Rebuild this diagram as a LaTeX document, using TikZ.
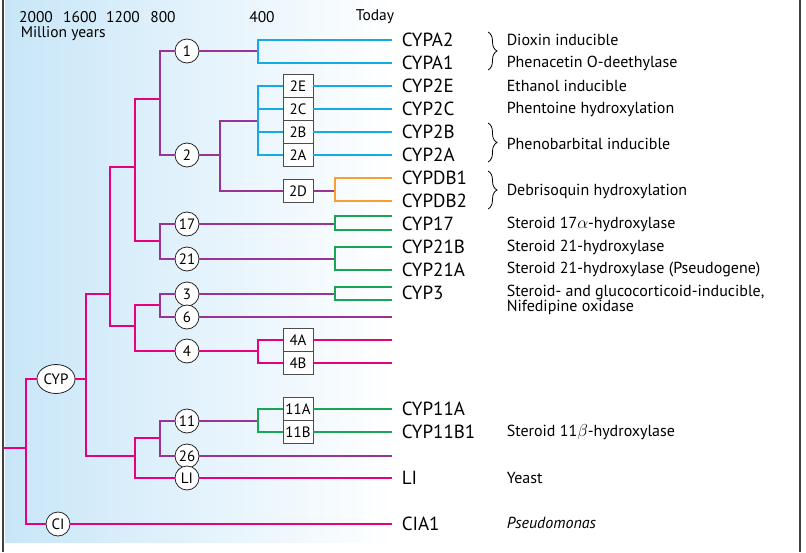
\documentclass[tikz,border=0pt]{standalone}
\usepackage{fontspec}
\setmainfont{PT Sans}
\usetikzlibrary{shapes.geometric,decorations.pathreplacing}

\definecolor{pinkl}{RGB}{230,0,126}
\definecolor{purpl}{RGB}{152,52,150}
\definecolor{bluel}{RGB}{20,170,226}
\definecolor{greenl}{RGB}{24,166,86}
\definecolor{orangel}{RGB}{246,160,52}
\definecolor{bgblue}{RGB}{200,230,248}

\tikzset{
  circ/.style={circle, draw=black!85, fill=white, line width=0.8pt, minimum size=24pt, inner sep=0pt, font=\fontsize{15}{15}\selectfont},
  famb/.style={rectangle, draw=black!70, fill=white, line width=0.8pt, minimum width=30pt, minimum height=23pt, inner sep=0pt, font=\fontsize{15}{15}\selectfont},
  cyp/.style={anchor=west, inner sep=0pt, font=\fontsize{19}{19}\selectfont},
  desc/.style={anchor=west, inner sep=0pt, font=\fontsize{16}{16}\selectfont},
  axis/.style={inner sep=0pt, font=\fontsize{15.5}{15.5}\selectfont},
  br/.style={decorate, decoration={brace, amplitude=9pt}, line width=0.8pt}
}

\begin{document}
\begin{tikzpicture}[x=1pt,y=-1pt,line width=1.5pt]
\useasboundingbox (0,0) rectangle (806,552);
\shade[left color=bgblue, right color=white] (5,0) rectangle (395,542);
\draw[black!75, line width=1.5pt] (3,0) -- (3,552);
\draw[black!75, line width=1.5pt] (800,0) -- (800,552);

% time axis
\node[axis] (t2000) at (36,17) {2000};
\node[axis] (t1600) at (80,17) {1600};
\node[axis] (t1200) at (123,17) {1200};
\node[axis] (t800) at (163,17) {800};
\node[axis] (t400) at (262,17) {400};
\node[axis] (today) at (375,17) {Today};
\node[axis, anchor=west] (myears) at (20,34) {Million years};

% inner nodes
\node[ellipse, draw=black!85, fill=white, line width=0.8pt, minimum width=38pt, minimum height=29pt, inner sep=0pt, font=\fontsize{15}{15}\selectfont] (cypn) at (56,379) {CYP};
\node[circ] (ci) at (58,524) {CI};
\node[circ] (n1) at (187,51) {1};
\node[circ] (n2) at (187,155) {2};
\node[circ] (n17) at (187,224) {17};
\node[circ] (n21) at (187,259) {21};
\node[circ] (n3) at (187,294) {3};
\node[circ] (n6) at (187,317) {6};
\node[circ] (n4) at (187,351) {4};
\node[circ] (n11) at (187,421) {11};
\node[circ] (n26) at (187,456) {26};
\node[circ] (nli) at (187,478) {LI};

\node[famb] (b2e) at (298,86) {2E};
\node[famb] (b2c) at (298,109) {2C};
\node[famb] (b2b) at (298,132) {2B};
\node[famb] (b2a) at (298,155) {2A};
\node[famb] (b2d) at (298,191) {2D};
\node[famb] (b4a) at (298,340) {4A};
\node[famb] (b4b) at (298,363) {4B};
\node[famb] (b11a) at (298,409) {11A};
\node[famb] (b11b) at (298,432) {11B};

% branch points
\coordinate (root) at (4,448);
\coordinate (j0) at (26,448);
\coordinate (ja) at (86,379);
\coordinate (jb) at (110,294);
\coordinate (jc) at (135,167);
\coordinate (jd) at (160,99);
\coordinate (je) at (160,241);
\coordinate (jf) at (135,326);
\coordinate (jg) at (160,305);
\coordinate (jh) at (135,456);
\coordinate (ji) at (160,438);
\coordinate (j1) at (258,51);
\coordinate (j2) at (220,155);
\coordinate (j2x) at (258,121);
\coordinate (j2d) at (335,191);
\coordinate (j17) at (335,224);
\coordinate (j21) at (335,259);
\coordinate (j3) at (335,294);
\coordinate (j4) at (258,351);
\coordinate (j11) at (258,421);

% leaf ends
\coordinate (ea2) at (392,40);
\coordinate (ea1) at (392,63);
\coordinate (e2e) at (392,86);
\coordinate (e2c) at (392,109);
\coordinate (e2b) at (392,132);
\coordinate (e2a) at (392,155);
\coordinate (edb1) at (392,178);
\coordinate (edb2) at (392,201);
\coordinate (e17a) at (392,216);
\coordinate (e17b) at (392,230);
\coordinate (e21b) at (392,247);
\coordinate (e21a) at (392,270);
\coordinate (e3a) at (392,287);
\coordinate (e3b) at (392,300);
\coordinate (e6) at (392,317);
\coordinate (e4a) at (392,340);
\coordinate (e4b) at (392,363);
\coordinate (e11a) at (392,409);
\coordinate (e11b) at (392,432);
\coordinate (e26) at (392,456);
\coordinate (eli) at (392,478);
\coordinate (eci) at (392,524);

% trunk
\draw[pinkl] (root) -- (j0);
\draw[pinkl] (cypn.west) -| (j0) |- (ci.west);
\draw[pinkl] (cypn.east) -- (ja);
\draw[pinkl] (jb) -| (ja) |- (jh);
\draw[pinkl] (jc) -| (jb) |- (jf);
\draw[pinkl] (jd) -| (jc) |- (je);
\draw[pinkl] (jg) -| (jf) |- (n4.west);
\draw[pinkl] (ji) -| (jh) |- (nli.west);
\draw[purpl] (n1.west) -| (jd) |- (n2.west);
\draw[purpl] (n17.west) -| (je) |- (n21.west);
\draw[purpl] (n3.west) -| (jg) |- (n6.west);
\draw[purpl] (n11.west) -| (ji) |- (n26.west);

% families 1 and 2
\draw[purpl] (n1.east) -- (j1);
\draw[bluel] (ea2) -| (j1) |- (ea1);
\draw[purpl] (n2.east) -- (j2);
\draw[purpl] (j2x) -| (j2) |- (b2d.west);
\draw[bluel] (b2e.west) -| (j2x) |- (b2a.west);
\draw[bluel] (b2c.west -| j2x) -- (b2c.west);
\draw[bluel] (b2b.west -| j2x) -- (b2b.west);
\draw[bluel] (b2e.east) -- (e2e);
\draw[bluel] (b2c.east) -- (e2c);
\draw[bluel] (b2b.east) -- (e2b);
\draw[bluel] (b2a.east) -- (e2a);
\draw[purpl] (b2d.east) -- (j2d);
\draw[orangel] (edb1) -| (j2d) |- (edb2);

% families 17, 21, 3, 6, 4
\draw[purpl] (n17.east) -- (j17);
\draw[greenl] (e17a) -| (j17) |- (e17b);
\draw[purpl] (n21.east) -- (j21);
\draw[greenl] (e21b) -| (j21) |- (e21a);
\draw[purpl] (n3.east) -- (j3);
\draw[greenl] (e3a) -| (j3) |- (e3b);
\draw[purpl] (n6.east) -- (e6);
\draw[pinkl] (n4.east) -- (j4);
\draw[pinkl] (b4a.west) -| (j4) |- (b4b.west);
\draw[pinkl] (b4a.east) -- (e4a);
\draw[pinkl] (b4b.east) -- (e4b);

% families 11, 26, LI, CI
\draw[purpl] (n11.east) -- (j11);
\draw[greenl] (b11a.west) -| (j11) |- (b11b.west);
\draw[greenl] (b11a.east) -- (e11a);
\draw[greenl] (b11b.east) -- (e11b);
\draw[purpl] (n26.east) -- (e26);
\draw[pinkl] (nli.east) -- (eli);
\draw[pinkl] (ci.east) -- (eci);

% gene names
\node[cyp] (la2) at (401,40) {CYPA2};
\node[cyp] (la1) at (401,63) {CYPA1};
\node[cyp] (l2e) at (401,86) {CYP2E};
\node[cyp] (l2c) at (401,109) {CYP2C};
\node[cyp] (l2b) at (401,132) {CYP2B};
\node[cyp] (l2a) at (401,155) {CYP2A};
\node[cyp] (ldb1) at (401,178) {CYPDB1};
\node[cyp] (ldb2) at (401,201) {CYPDB2};
\node[cyp] (l17) at (401,224) {CYP17};
\node[cyp] (l21b) at (401,247) {CYP21B};
\node[cyp] (l21a) at (401,270) {CYP21A};
\node[cyp] (l3) at (401,293) {CYP3};
\node[cyp] (l11a) at (401,409) {CYP11A};
\node[cyp] (l11b) at (401,432) {CYP11B1};
\node[cyp] (lli) at (401,478) {LI};
\node[cyp] (lcia) at (401,524) {CIA1};

% braces
\draw[br] (488,32) -- (488,70);
\draw[br] (488,123) -- (488,162);
\draw[br] (488,171) -- (488,209);

% functions
\node[desc] (da2) at (506,40) {Dioxin inducible};
\node[desc] (da1) at (506,63) {Phenacetin O-deethylase};
\node[desc] (d2e) at (506,86) {Ethanol inducible};
\node[desc] (d2c) at (506,109) {Phentoine hydroxylation};
\node[desc] (d2ab) at (506,144) {Phenobarbital inducible};
\node[desc] (ddb) at (506,191) {Debrisoquin hydroxylation};
\node[desc] (d17) at (506,224) {Steroid 17$\alpha$-hydroxylase};
\node[desc] (d21b) at (506,247) {Steroid 21-hydroxylase};
\node[desc] (d21a) at (506,270) {Steroid 21-hydroxylase (Pseudogene)};
\node[desc, align=left, font=\fontsize{16}{15}\selectfont] (d3) at (506,300) {Steroid- and glucocorticoid-inducible,\\Nifedipine oxidase};
\node[desc] (d11b) at (506,432) {Steroid 11$\beta$-hydroxylase};
\node[desc] (dli) at (506,478) {Yeast};
\node[desc] (dci) at (506,523) {\itshape Pseudomonas};

\end{tikzpicture}
\end{document}
